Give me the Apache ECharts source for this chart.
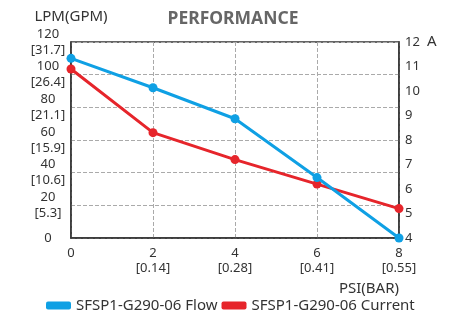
<!DOCTYPE html>
<html><head><meta charset="utf-8">
<script src="https://cdn.jsdelivr.net/npm/echarts@6/dist/echarts.min.js"></script>
<style>html,body{margin:0;padding:0;background:#fff}#c{width:455px;height:321px}</style>
</head><body><div id="c"></div>
<script>
const psi = [0, 2, 4, 6, 8];
const bar = ['', '0.14', '0.28', '0.41', '0.55'];
const lpmTicks = [0, 20, 40, 60, 80, 100, 120];
const gpmTicks = ['', '5.3', '10.6', '15.9', '21.1', '26.4', '31.7'];
const flow = [110, 92, 73, 37, 0];
const current = [10.9, 8.3, 7.2, 6.2, 5.2];
const flowName = 'SFSP1-G290-06 Flow';
const currentName = 'SFSP1-G290-06 Current';

const FONT = 'Noto Sans';
const chart = echarts.init(document.getElementById('c'));
chart.setOption({
  animation: false,
  textStyle: {fontFamily: FONT},
  title: {text: 'PERFORMANCE', left: 228, top: 5, textAlign: 'center',
    textStyle: {fontFamily: FONT, fontSize: 17.5, fontWeight: 'bold', color: '#666'}},
  grid: {left: 71, right: 56, top: 42, bottom: 83, show: true, borderColor: '#333', borderWidth: 1.5},
  legend: {bottom: 3, left: 41, itemWidth: 25, itemHeight: 8, itemGap: 4,
    icon: 'roundRect',
    textStyle: {fontFamily: FONT, fontSize: 15, color: '#333'},
    data: [flowName, currentName]},
  xAxis: {type: 'value', min: 0, max: 8, interval: 2,
    name: 'PSI(BAR)', nameLocation: 'end', nameGap: 0,
    nameTextStyle: {fontFamily: FONT, fontSize: 15, color: '#333', align: 'right', verticalAlign: 'top', padding: [43, 0, 0, 0]},
    axisLine: {show: true, lineStyle: {color: '#333', width: 1.5}},
    axisTick: {show: false},
    splitLine: {show: true, lineStyle: {type: 'dashed', color: '#aaa'}},
    axisLabel: {margin: 8, fontSize: 13, color: '#333', lineHeight: 15,
      formatter: v => { const i = psi.indexOf(v); return bar[i] ? v + '\n[' + bar[i] + ']' : String(v); }}},
  yAxis: [
    {type: 'value', min: 0, max: 120, interval: 20, position: 'left',
      name: 'LPM(GPM)', nameLocation: 'end', nameGap: 18,
      nameTextStyle: {fontFamily: FONT, fontSize: 15, color: '#333', align: 'center'},
      axisLine: {show: true, lineStyle: {color: '#333', width: 1.5}},
      axisTick: {show: false},
      splitLine: {show: true, lineStyle: {type: 'dashed', color: '#aaa'}},
      axisLabel: {margin: 23, align: 'center', fontSize: 13, color: '#333', lineHeight: 16,
        formatter: v => { const i = lpmTicks.indexOf(v); return gpmTicks[i] ? v + '\n[' + gpmTicks[i] + ']' : String(v); }}},
    {type: 'value', min: 4, max: 12, interval: 1, position: 'right',
      name: 'A', nameLocation: 'end', nameGap: 0,
      nameTextStyle: {fontFamily: FONT, fontSize: 15, color: '#333', align: 'left', verticalAlign: 'middle', padding: [0, 0, 0, 28]},
      axisLine: {show: true, lineStyle: {color: '#333', width: 1.5}},
      axisTick: {show: false},
      splitLine: {show: false},
      axisLabel: {margin: 6, fontSize: 13, color: '#333'}}
  ],
  series: [
    {name: flowName, type: 'line', yAxisIndex: 0, data: psi.map((x, i) => [x, flow[i]]),
      symbol: 'circle', symbolSize: 9, color: '#0fa0e4', lineStyle: {width: 3}, z: 3},
    {name: currentName, type: 'line', yAxisIndex: 1, data: psi.map((x, i) => [x, current[i]]),
      symbol: 'circle', symbolSize: 9, color: '#e6252b', lineStyle: {width: 3}, z: 2}
  ]
});
</script></body></html>
